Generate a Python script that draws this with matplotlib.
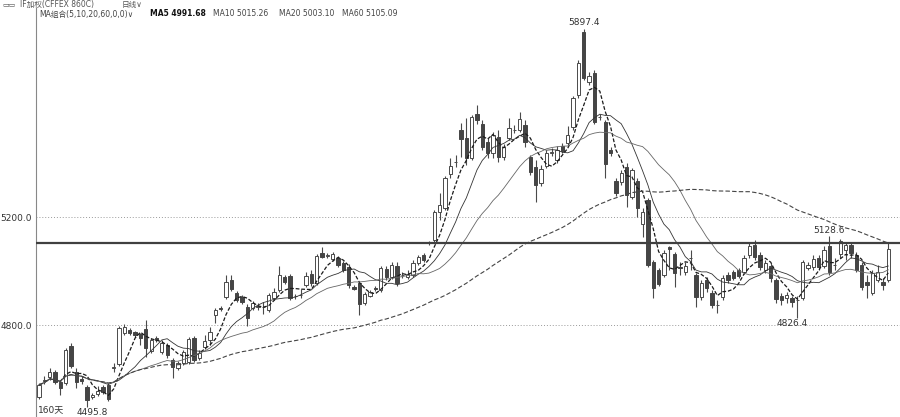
import matplotlib
matplotlib.use('Agg')
import matplotlib.pyplot as plt
import numpy as np
import pandas as pd

plt.rcParams['font.family'] = ['DejaVu Sans', 'Noto Sans CJK SC']

# daily OHLC, 160 sessions
opens = [4533.3, 4592.6, 4607.4, 4625.9, 4588.9, 4585.2, 4722.2, 4625.9, 4600.0, 4570.4,
         4533.3, 4544.4, 4570.4, 4577.8, 4640.7, 4655.6, 4770.4, 4781.5, 4774.1, 4766.7,
         4785.2, 4703.7, 4751.9, 4700.0, 4725.9, 4670.4, 4640.7, 4659.3, 4663.0, 4751.9,
         4677.8, 4718.5, 4744.4, 4837.0, 4863.0, 4903.7, 4966.7, 4918.5, 4903.7, 4866.7,
         4863.0, 4866.7, 4866.7, 4855.6, 4900.0, 4929.6, 4977.8, 4981.5, 4907.4, 4911.1,
         4948.1, 4988.9, 4955.6, 5066.7, 5055.6, 5044.4, 5048.1, 5029.6, 5014.8, 4940.7,
         4955.6, 4881.5, 4907.4, 4937.0, 4929.6, 5007.4, 4977.8, 5018.5, 4985.2, 4977.8,
         4985.2, 5029.6, 5059.3, 5103.7, 5114.8, 5218.5, 5233.3, 5359.3, 5403.7, 5522.2,
         5492.6, 5418.5, 5581.5, 5544.4, 5477.8, 5437.0, 5496.3, 5422.2, 5492.6, 5522.2,
         5522.2, 5540.7, 5422.2, 5385.2, 5325.9, 5388.9, 5437.0, 5411.1, 5463.0, 5474.1,
         5533.3, 5651.9, 5885.2, 5700.0, 5733.3, 5570.4, 5551.9, 5448.1, 5333.3, 5329.6,
         5385.2, 5274.1, 5333.3, 5174.1, 5263.0, 5033.3, 5003.7, 4985.2, 5088.9, 5063.0,
         5014.8, 4996.3, 5048.1, 4985.2, 4903.7, 4966.7, 4918.5, 4874.1, 4903.7, 4985.2,
         4996.3, 5003.7, 4996.3, 5059.3, 5096.3, 5059.3, 5003.7, 5018.5, 4966.7, 4907.4,
         4900.0, 4900.0, 4892.6, 4900.0, 5011.1, 5014.8, 5048.1, 5018.5, 5092.6, 5022.2,
         5063.0, 5077.8, 5096.3, 5059.3, 5022.2, 4959.3, 4918.5, 4966.7, 4959.3, 4966.7]
highs = [4585.2, 4611.1, 4640.7, 4633.3, 4596.3, 4714.8, 4733.3, 4640.7, 4611.1, 4577.8,
         4548.1, 4574.1, 4577.8, 4585.2, 4659.3, 4796.3, 4803.7, 4788.9, 4777.8, 4770.4,
         4818.5, 4751.9, 4759.3, 4744.4, 4733.3, 4677.8, 4666.7, 4707.4, 4755.6, 4759.3,
         4707.4, 4763.0, 4792.6, 4863.0, 4870.4, 4985.2, 4985.2, 4925.9, 4911.1, 4877.8,
         4888.9, 4881.5, 4885.2, 4918.5, 4937.0, 5018.5, 4985.2, 4988.9, 4914.8, 4933.3,
         4996.3, 5003.7, 5063.0, 5088.9, 5066.7, 5070.4, 5055.6, 5037.0, 5025.9, 4948.1,
         4963.0, 4922.2, 4929.6, 4944.4, 5018.5, 5018.5, 5033.3, 5033.3, 4996.3, 5003.7,
         5040.7, 5059.3, 5066.7, 5111.1, 5225.9, 5288.9, 5351.9, 5418.5, 5429.6, 5548.1,
         5566.7, 5577.8, 5614.8, 5559.3, 5492.6, 5514.8, 5522.2, 5470.4, 5566.7, 5540.7,
         5588.9, 5559.3, 5429.6, 5411.1, 5392.6, 5448.1, 5455.6, 5463.0, 5474.1, 5537.0,
         5648.1, 5781.5, 5897.4, 5737.0, 5744.4, 5581.5, 5559.3, 5459.3, 5344.4, 5374.1,
         5400.0, 5381.5, 5344.4, 5233.3, 5270.4, 5040.7, 5011.1, 5077.8, 5092.6, 5070.4,
         5033.3, 5033.3, 5077.8, 4992.6, 4966.7, 4977.8, 4929.6, 4892.6, 4985.2, 4996.3,
         5003.7, 5011.1, 5059.3, 5103.7, 5114.8, 5070.4, 5040.7, 5029.6, 4974.1, 4918.5,
         4922.2, 4907.4, 4907.4, 5040.7, 5033.3, 5059.3, 5059.3, 5092.6, 5128.6, 5048.1,
         5118.5, 5107.4, 5107.4, 5070.4, 5033.3, 4985.2, 5003.7, 5022.2, 4974.1, 5103.7]
lows = [4525.9, 4581.5, 4596.3, 4581.5, 4540.7, 4577.8, 4640.7, 4566.7, 4581.5, 4495.8,
        4525.9, 4537.0, 4544.4, 4518.5, 4625.9, 4648.1, 4763.0, 4763.0, 4755.6, 4725.9,
        4681.5, 4696.3, 4737.0, 4692.6, 4677.8, 4603.7, 4633.3, 4651.9, 4655.6, 4663.0,
        4670.4, 4711.1, 4725.9, 4807.4, 4851.9, 4896.3, 4925.9, 4885.2, 4877.8, 4796.3,
        4855.6, 4855.6, 4840.7, 4848.1, 4892.6, 4922.2, 4951.9, 4892.6, 4896.3, 4900.0,
        4940.7, 4944.4, 4948.1, 5048.1, 5048.1, 5037.0, 5014.8, 4996.3, 4937.0, 4929.6,
        4837.0, 4874.1, 4903.7, 4925.9, 4922.2, 4966.7, 4970.4, 4944.4, 4974.1, 4970.4,
        4977.8, 5022.2, 5033.3, 5096.3, 5107.4, 5188.9, 5225.9, 5344.4, 5385.2, 5422.2,
        5392.6, 5411.1, 5544.4, 5448.1, 5418.5, 5418.5, 5403.7, 5411.1, 5485.2, 5511.1,
        5514.8, 5459.3, 5355.6, 5255.6, 5314.8, 5381.5, 5425.9, 5400.0, 5437.0, 5463.0,
        5522.2, 5640.7, 5707.4, 5688.9, 5544.4, 5559.3, 5344.4, 5425.9, 5277.8, 5318.5,
        5237.0, 5266.7, 5200.0, 5125.9, 5014.8, 4900.0, 4944.4, 4977.8, 5003.7, 4940.7,
        4985.2, 4985.2, 5003.7, 4866.7, 4892.6, 4922.2, 4863.0, 4844.4, 4892.6, 4955.6,
        4966.7, 4974.1, 4988.9, 5048.1, 5040.7, 5003.7, 4992.6, 4959.3, 4881.5, 4874.1,
        4881.5, 4866.7, 4826.4, 4892.6, 5003.7, 5003.7, 5003.7, 5011.1, 4985.2, 5003.7,
        5048.1, 5040.7, 5048.1, 4996.3, 4929.6, 4900.0, 4911.1, 4959.3, 4929.6, 4959.3]
closes = [4577.8, 4596.3, 4625.9, 4588.9, 4566.7, 4707.4, 4648.1, 4588.9, 4592.6, 4522.2,
          4540.7, 4555.6, 4551.9, 4525.9, 4644.4, 4788.9, 4792.6, 4770.4, 4763.0, 4751.9,
          4714.8, 4744.4, 4744.4, 4733.3, 4688.9, 4644.4, 4659.3, 4700.0, 4748.1, 4670.4,
          4696.3, 4740.7, 4774.1, 4855.6, 4859.3, 4959.3, 4933.3, 4892.6, 4885.2, 4825.9,
          4881.5, 4870.4, 4868.0, 4911.1, 4922.2, 4985.2, 4959.3, 4900.0, 4908.0, 4912.0,
          4981.5, 4955.6, 5055.6, 5051.9, 5059.3, 5063.0, 5022.2, 5003.7, 4948.1, 4933.3,
          4877.8, 4914.8, 4922.2, 4933.3, 5011.1, 4977.8, 5022.2, 4955.6, 4986.0, 4988.9,
          5029.6, 5051.9, 5040.7, 5104.5, 5218.5, 5244.4, 5344.4, 5388.9, 5404.5, 5488.9,
          5418.5, 5570.4, 5559.3, 5459.3, 5437.0, 5503.7, 5422.2, 5459.3, 5529.6, 5523.0,
          5563.0, 5477.8, 5366.7, 5318.5, 5377.8, 5437.0, 5440.7, 5448.1, 5444.4, 5503.7,
          5640.7, 5770.4, 5714.8, 5722.2, 5551.9, 5571.0, 5396.3, 5437.0, 5288.9, 5363.0,
          5281.5, 5374.1, 5233.3, 5218.5, 5022.2, 4937.0, 4951.9, 5066.7, 5081.5, 4992.6,
          5011.1, 5018.5, 5049.0, 4903.7, 4955.6, 4937.0, 4874.1, 4875.0, 4974.1, 4966.7,
          4974.1, 4981.5, 5048.1, 5092.6, 5051.9, 5014.8, 5029.6, 4974.1, 4896.3, 4892.6,
          4911.1, 4885.2, 4893.5, 5033.3, 5022.2, 5044.4, 5014.8, 5077.8, 4996.3, 5023.0,
          5111.1, 5096.3, 5066.7, 5003.7, 4940.7, 4948.1, 4992.6, 4996.3, 4948.1, 5081.5]

grid_levels = [4800, 5200]
grid_labels = ['4800.0', '5200.0']
line_level = 5105.09
ma_periods = [5, 10, 20, 60]
header_ma = 'MA组合(5,10,20,60,0,0)∨'
header_vals = ['MA5 4991.68', 'MA10 5015.26', 'MA20 5003.10', 'MA60 5105.09']

o = np.array(opens)
h = np.array(highs)
l = np.array(lows)
c = np.array(closes)
x = np.arange(len(c))
up = c >= o

fig = plt.figure(figsize=(9, 4.17), dpi=100)
ax = fig.add_axes([36 / 900, 0, 864 / 900, 409 / 417])

# wicks first, bodies on top
ax.vlines(x, l, h, color='#4a4a4a', lw=0.8, zorder=3)
body_lo = np.minimum(o, c)
body_h = np.maximum(np.abs(c - o), 1.0)
ax.bar(x[up], body_h[up], bottom=body_lo[up], width=0.62,
       facecolor='white', edgecolor='#4a4a4a', linewidth=0.7, zorder=4)
ax.bar(x[~up], body_h[~up], bottom=body_lo[~up], width=0.62,
       facecolor='#454545', edgecolor='#454545', linewidth=0.7, zorder=4)

# moving averages
s = pd.Series(c)
styles = {5: dict(color='#1a1a1a', lw=0.9, ls=(0, (3, 1.5))),
          10: dict(color='#333333', lw=0.6, ls='-'),
          20: dict(color='#666666', lw=0.6, ls='-'),
          60: dict(color='#444444', lw=0.8, ls=(0, (4, 2)))}
for p in ma_periods:
    ax.plot(x, s.rolling(p, min_periods=1).mean(), zorder=5, **styles[p])

for lev in grid_levels:
    ax.axhline(lev, color='#9a9a9a', lw=0.7, ls=(0, (1, 2)), zorder=1)
ax.axhline(line_level, color='#404040', lw=1.6, zorder=6)

ax.set_xlim(-0.56, 161.2)
ax.set_ylim(4459.3, 5974.1)
ax.set_xticks([])
ax.set_yticks(grid_levels, grid_labels)
ax.tick_params(axis='y', length=0, pad=3, labelsize=6.5, labelcolor='#333333')
for sp in ['top', 'right', 'bottom']:
    ax.spines[sp].set_visible(False)
ax.spines['left'].set_color('#888888')

# extreme value labels
lab = dict(fontsize=6.5, color='#333333', ha='center', textcoords='offset points')
ax.annotate('5897.4', (102, h[102]), xytext=(0, 1), va='bottom', **lab)
ax.annotate('5128.6', (148, h[148]), xytext=(0, 1), va='bottom', **lab)
ax.annotate('4826.4', (142, l[142]), xytext=(-4, -1), va='top', **lab)
ax.annotate('4495.8', (9, l[9]), xytext=(4, -0.5), va='top', **lab)

# header
fig.text(2 / 900, 1 - 4.5 / 417, '▭▭', fontsize=5, color='#555555', va='center')
fig.text(20 / 900, 1 - 4.5 / 417, 'IF加权(CFFEX 860C)', fontsize=5.5, color='#555555', va='center')
fig.text(122 / 900, 1 - 4.5 / 417, '日线∨', fontsize=5.5, color='#555555', va='center')
fig.text(39 / 900, 1 - 14 / 417, header_ma, fontsize=5.5, color='#444444', va='center')
xs = [150, 213, 279, 342]
for xp, t in zip(xs, header_vals):
    fig.text(xp / 900, 1 - 14 / 417, t, fontsize=5.5, va='center',
             color='#111111' if t.startswith('MA5 ') else '#444444',
             fontweight='bold' if t.startswith('MA5 ') else 'normal')
fig.text(38 / 900, 1 - 410 / 417, '160天', fontsize=6.5, color='#333333', va='center')

fig.savefig('out.png', dpi=100, facecolor='white')
